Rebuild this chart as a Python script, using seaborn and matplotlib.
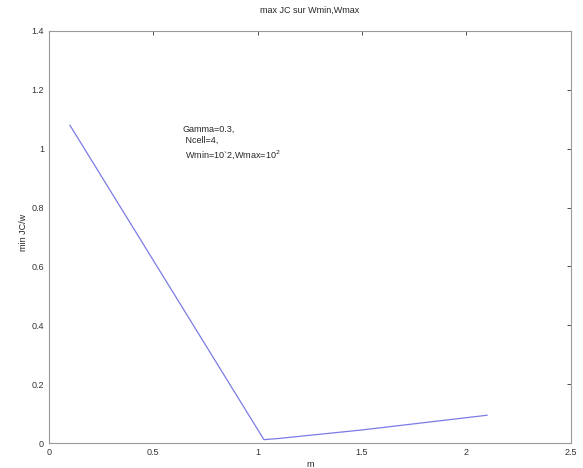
import matplotlib
matplotlib.use("Agg")
import matplotlib.pyplot as plt
import seaborn as sns
import pandas as pd

m_values = [0.1, 1.03, 1.1, 1.5, 2.1]
jc_values = [1.08, 0.012, 0.016, 0.045, 0.095]
x_ticks = [0, 0.5, 1, 1.5, 2, 2.5]
y_ticks = [0, 0.2, 0.4, 0.6, 0.8, 1, 1.2, 1.4]

sns.set_style("white")
plt.rcParams['font.family'] = ['Liberation Sans', 'DejaVu Sans']

df = pd.DataFrame({"m": m_values, "jc": jc_values})

fig = plt.figure(figsize=(5.83, 4.68), dpi=100)
ax = fig.add_axes([0.084, 0.053, 0.895, 0.881])
sns.lineplot(data=df, x="m", y="jc", ax=ax, color="#7b7be6", linewidth=0.9, sort=False)

ax.set_xlim(0, 2.5)
ax.set_ylim(0, 1.4)
ax.set_xticks(x_ticks)
ax.set_xticklabels(["0", "0.5", "1", "1.5", "2", "2.5"])
ax.set_yticks(y_ticks)
ax.set_yticklabels(["0", "0.2", "0.4", "0.6", "0.8", "1", "1.2", "1.4"])
ax.tick_params(direction="in", length=3, labelsize=6.5, colors="#333333", width=0.6,
               top=True, right=True)
for s in ax.spines.values():
    s.set_color("#999999")
    s.set_linewidth(0.8)
ax.set_xlabel("m", fontsize=6.5, labelpad=2)
ax.set_ylabel("min JC/w", fontsize=6.5)
ax.yaxis.set_label_coords(-0.04, 0.51)
ax.set_title("max JC sur Wmin,Wmax", fontsize=6.5, pad=13)
ax.text(0.64, 1.08, "Gamma=0.3,\n Ncell=4,\n Wmin=10`2,Wmax=10$^2$", fontsize=6.5,
        va="top", ha="left", linespacing=1.3)

fig.savefig("out.png", dpi=100)
